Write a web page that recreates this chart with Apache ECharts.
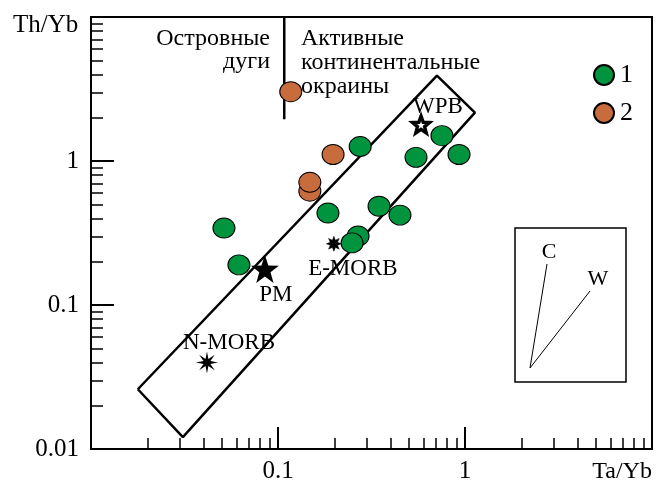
<!DOCTYPE html>
<html>
<head>
<meta charset="utf-8">
<script src="https://cdn.jsdelivr.net/npm/echarts@6/dist/echarts.min.js"></script>
<style>
  html, body { margin: 0; padding: 0; background: #fff; }
  #main { width: 656px; height: 484px; }
</style>
</head>
<body>
<div id="main"></div>
<script>
// group 1 (green) and group 2 (orange): [Ta/Yb, Th/Yb]
var group1 = [
    [0.0514, 0.342], [0.0618, 0.190], [0.185, 0.435], [0.275, 1.26],
    [0.268, 0.301], [0.249, 0.270], [0.347, 0.485], [0.449, 0.421],
    [0.547, 1.06], [0.753, 1.50], [0.929, 1.11]
];
var group2 = [
    [0.117, 3.03], [0.197, 1.11], [0.148, 0.617], [0.148, 0.711]
];
// reference compositions
var refNames = ['WPB', 'PM', 'E-MORB', 'N-MORB'];
var refPoints = [[0.582, 1.79], [0.0851, 0.178], [0.199, 0.266], [0.0417, 0.0399]];
// mantle array field and arc / margin divider
var fieldBox = [[0.0178, 0.0260], [0.0310, 0.0121], [1.13, 2.17], [0.708, 3.91], [0.0178, 0.0260]];
var divider = [[0.108, 1.95], [0.108, 10]];
// ticks
var majorX = [0.1, 1];
var majorY = [0.1, 1];
var labelsY = [0.01, 0.1, 1];
var minorTicks = [0.02, 0.03, 0.04, 0.05, 0.06, 0.07, 0.08, 0.09,
                  0.2, 0.3, 0.4, 0.5, 0.6, 0.7, 0.8, 0.9,
                  2, 3, 4, 5, 6, 7, 8, 9];

var serif = '"Liberation Serif", "Times New Roman", serif';

function starPath(n, rIn) {
    var pts = [];
    for (var i = 0; i < n * 2; i++) {
        var a = -Math.PI / 2 + i * Math.PI / n;
        var r = i % 2 === 0 ? 50 : rIn;
        pts.push((50 + r * Math.cos(a)).toFixed(2) + ',' + (50 + r * Math.sin(a)).toFixed(2));
    }
    return 'path://M' + pts.join('L') + 'Z';
}

var refStyle = {
    'WPB':    { symbol: starPath(5, 21), size: 17, fill: '#fff', border: 3.4, offset: [17, -18] },
    'PM':     { symbol: starPath(5, 20), size: 28, fill: '#000', border: 0, offset: [11, 26] },
    'E-MORB': { symbol: starPath(8, 26), size: 15, fill: '#000', border: 0.5, offset: [19, 25] },
    'N-MORB': { symbol: starPath(8, 17), size: 22, fill: '#000', border: 0, offset: [22, -20] }
};

var refData = refNames.map(function (n, i) {
    var s = refStyle[n];
    return {
        name: n,
        value: refPoints[i],
        symbol: s.symbol,
        symbolSize: s.size,
        itemStyle: { color: s.fill, borderColor: '#000', borderWidth: s.border, opacity: 1 },
        label: { offset: s.offset }
    };
});

var myChart = echarts.init(document.getElementById('main'));

function logAxis(extra) {
    var ax = {
        type: 'log',
        logBase: 10,
        min: 0.01,
        max: 10,
        splitLine: { show: false },
        axisLine: { show: true, lineStyle: { color: '#000', width: 2 } },
        axisTick: { show: false },
        axisLabel: { show: false }
    };
    for (var k in extra) ax[k] = extra[k];
    return ax;
}

var option = {
    animation: false,
    grid: {
        left: 91, right: 4, top: 17, bottom: 33,
        show: true, borderColor: '#000', borderWidth: 2
    },
    legend: {
        data: ['1', '2'],
        orient: 'vertical',
        left: 588,
        top: 57,
        itemWidth: 22,
        itemHeight: 20,
        itemGap: 12,
        textStyle: { fontFamily: serif, fontSize: 26, color: '#000' }
    },
    xAxis: [
        logAxis({
            position: 'bottom',
            axisTick: { show: true, inside: true, length: 22, customValues: majorX,
                        lineStyle: { color: '#000', width: 2 } },
            axisLabel: { show: true, customValues: majorX, margin: 10,
                         fontFamily: serif, fontSize: 25, color: '#000',
                         formatter: function (v) { return String(+v.toPrecision(3)); } }
        }),
        logAxis({
            position: 'bottom',
            axisLine: { show: false },
            axisTick: { show: true, inside: true, length: 11, customValues: minorTicks,
                        lineStyle: { color: '#000', width: 1.5 } }
        })
    ],
    yAxis: [
        logAxis({
            position: 'left',
            axisTick: { show: true, inside: true, length: 23, customValues: majorY,
                        lineStyle: { color: '#000', width: 2 } },
            axisLabel: { show: true, customValues: labelsY, margin: 12,
                         fontFamily: serif, fontSize: 25, color: '#000',
                         formatter: function (v) { return String(+v.toPrecision(3)); } }
        }),
        logAxis({
            position: 'left',
            axisLine: { show: false },
            axisTick: { show: true, inside: true, length: 12, customValues: minorTicks,
                        lineStyle: { color: '#000', width: 1.5 } }
        })
    ],
    graphic: [
        { type: 'text', x: 13, y: 25, style: { text: 'Th/Yb', font: '25px ' + serif, fill: '#000', align: 'left', verticalAlign: 'middle' } },
        { type: 'text', x: 652, y: 472, style: { text: 'Ta/Yb', font: '24px ' + serif, fill: '#000', align: 'right', verticalAlign: 'middle' } },
        { type: 'text', x: 270, y: 39, style: { text: 'Островные', font: '24px ' + serif, fill: '#000', align: 'right', verticalAlign: 'middle' } },
        { type: 'text', x: 270, y: 62, style: { text: 'дуги', font: '24px ' + serif, fill: '#000', align: 'right', verticalAlign: 'middle' } },
        { type: 'text', x: 301, y: 39, style: { text: 'Активные', font: '24px ' + serif, fill: '#000', align: 'left', verticalAlign: 'middle' } },
        { type: 'text', x: 301, y: 63, style: { text: 'континентальные', font: '24px ' + serif, fill: '#000', align: 'left', verticalAlign: 'middle' } },
        { type: 'text', x: 301, y: 87, style: { text: 'окраины', font: '24px ' + serif, fill: '#000', align: 'left', verticalAlign: 'middle' } },
        // inset: crust (C) and within-plate (W) vectors
        { type: 'rect', shape: { x: 515, y: 228, width: 111, height: 154 }, style: { fill: 'none', stroke: '#000', lineWidth: 1.5 } },
        { type: 'line', shape: { x1: 530, y1: 368, x2: 547, y2: 264 }, style: { stroke: '#000', lineWidth: 1 } },
        { type: 'line', shape: { x1: 530, y1: 368, x2: 590, y2: 291 }, style: { stroke: '#000', lineWidth: 1 } },
        { type: 'text', x: 549, y: 252, style: { text: 'C', font: '22px ' + serif, fill: '#000', align: 'center', verticalAlign: 'middle' } },
        { type: 'text', x: 598, y: 279, style: { text: 'W', font: '22px ' + serif, fill: '#000', align: 'center', verticalAlign: 'middle' } }
    ],
    series: [
        {
            name: 'field', type: 'line', data: fieldBox, symbol: 'none', silent: true, z: 1,
            lineStyle: { color: '#000', width: 2.5 }
        },
        {
            name: 'divider', type: 'line', data: divider, symbol: 'none', silent: true, z: 1,
            lineStyle: { color: '#000', width: 2.5 }
        },
        {
            name: '1', type: 'scatter', data: group1, symbol: 'circle', symbolSize: [22, 20], z: 3,
            itemStyle: { color: '#00943f', borderColor: '#000', borderWidth: 1, opacity: 1 }
        },
        {
            name: '2', type: 'scatter', data: group2, symbol: 'circle', symbolSize: [22, 20], z: 3,
            itemStyle: { color: '#c96c3d', borderColor: '#000', borderWidth: 1, opacity: 1 }
        },
        {
            name: 'ref', type: 'scatter', data: refData, z: 4,
            label: {
                show: true, position: 'inside', formatter: '{b}',
                fontFamily: serif, fontSize: 23, color: '#000',
                textBorderWidth: 0, opacity: 1
            }
        }
    ]
};

myChart.setOption(option);
</script>
</body>
</html>
